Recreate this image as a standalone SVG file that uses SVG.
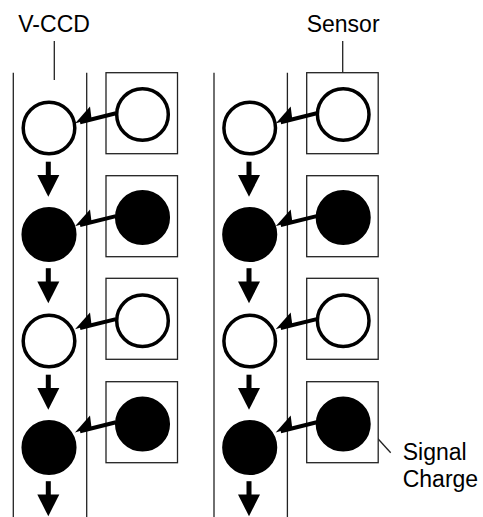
<svg xmlns="http://www.w3.org/2000/svg" width="483" height="517" viewBox="0 0 483 517">
<defs>
<style>
.lbl{font-family:"Liberation Sans",Arial,sans-serif;font-size:23px;fill:#000}
.thin{stroke:#222;stroke-width:1.3;fill:none}
.box{stroke:#222;stroke-width:1.3;fill:#fff}
.open{stroke:#000;stroke-width:3.5;fill:#fff}
.full{stroke:#000;stroke-width:3.5;fill:#000}
.shaft{stroke:#000;stroke-width:4;fill:none}
.head{fill:#000;stroke:none}
</style>
<g id="down"><rect x="-2.5" y="0" width="5" height="14" class="head"/><polygon points="-11,13.3 11,13.3 0,35" class="head"/></g>
<g id="xfer"><line x1="116" y1="113.3" x2="80" y2="122.2" class="shaft"/><polygon points="75,123.5 90,106.6 91.5,118.5" class="head"/></g>
</defs>
<g id="labels">
<text class="lbl" x="18.3" y="31.7">V-CCD</text>
<text class="lbl" x="306.7" y="31.7">Sensor</text>
<text class="lbl" x="402.7" y="460">Signal</text>
<text class="lbl" x="402.7" y="487.3">Charge</text>
<line class="thin" x1="54.3" y1="41" x2="54.3" y2="80"/>
<line class="thin" x1="342.7" y1="41" x2="342.7" y2="80"/>
<line class="thin" x1="370" y1="430" x2="390.7" y2="452.7"/>
</g>
<g id="vccd-left">
<line class="thin" x1="13.3" y1="72.7" x2="13.3" y2="517"/>
<line class="thin" x1="86.7" y1="72.7" x2="86.7" y2="517"/>
</g>
<g id="vccd-right">
<line class="thin" x1="214" y1="72.7" x2="214" y2="517"/>
<line class="thin" x1="287.4" y1="72.7" x2="287.4" y2="517"/>
</g>
<g id="sensors-left">
<rect class="box" x="106" y="72.7" width="71.5" height="81"/>
<rect class="box" x="106" y="175.7" width="71.5" height="81"/>
<rect class="box" x="106" y="278.3" width="71.5" height="81"/>
<rect class="box" x="106" y="381.7" width="71.5" height="81"/>
<circle class="open" cx="142.5" cy="114.5" r="25.8"/>
<circle class="full" cx="142.5" cy="217.5" r="25.8"/>
<circle class="open" cx="142.5" cy="320.8" r="25.8"/>
<circle class="full" cx="142.5" cy="424" r="25.8"/>
</g>
<g id="sensors-right">
<rect class="box" x="306.7" y="72.7" width="71.5" height="81"/>
<rect class="box" x="306.7" y="175.7" width="71.5" height="81"/>
<rect class="box" x="306.7" y="278.3" width="71.5" height="81"/>
<rect class="box" x="306.7" y="381.7" width="71.5" height="81"/>
<circle class="open" cx="343.2" cy="114.5" r="25.8"/>
<circle class="full" cx="343.2" cy="217.5" r="25.8"/>
<circle class="open" cx="343.2" cy="320.8" r="25.8"/>
<circle class="full" cx="343.2" cy="424" r="25.8"/>
</g>
<g id="charges-left">
<circle class="open" cx="49" cy="128" r="25.8"/>
<circle class="full" cx="49" cy="234.5" r="25.8"/>
<circle class="open" cx="49" cy="341" r="25.8"/>
<circle class="full" cx="49" cy="447.5" r="25.8"/>
</g>
<g id="charges-right">
<circle class="open" cx="249.7" cy="128" r="25.8"/>
<circle class="full" cx="249.7" cy="234.5" r="25.8"/>
<circle class="open" cx="249.7" cy="341" r="25.8"/>
<circle class="full" cx="249.7" cy="447.5" r="25.8"/>
</g>
<g id="connectors">
<use href="#down" x="48.3" y="161.7"/>
<use href="#down" x="48.3" y="268.2"/>
<use href="#down" x="48.3" y="374.7"/>
<use href="#down" x="48.3" y="481.2"/>
<use href="#down" x="249" y="161.7"/>
<use href="#down" x="249" y="268.2"/>
<use href="#down" x="249" y="374.7"/>
<use href="#down" x="249" y="481.2"/>
<use href="#xfer" x="0" y="0"/>
<use href="#xfer" x="0" y="102.8"/>
<use href="#xfer" x="0" y="205.8"/>
<use href="#xfer" x="0" y="309"/>
<use href="#xfer" x="200.7" y="0"/>
<use href="#xfer" x="200.7" y="102.8"/>
<use href="#xfer" x="200.7" y="205.8"/>
<use href="#xfer" x="200.7" y="309"/>
</g>
</svg>
